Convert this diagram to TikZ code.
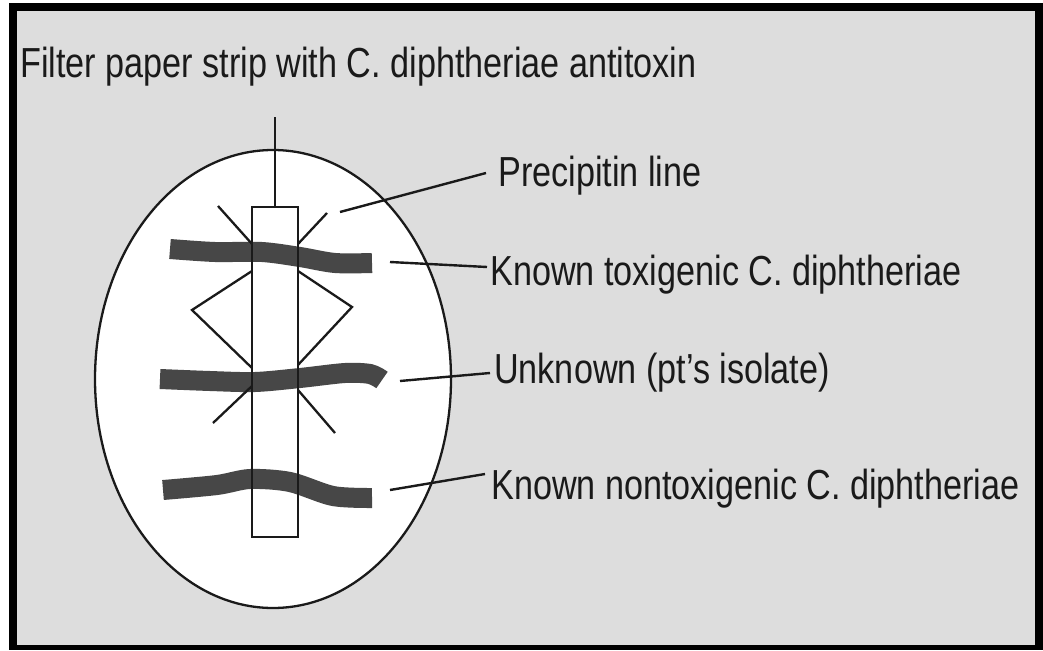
\documentclass[tikz,border=0pt]{standalone}
\usepackage{fontspec}
\setmainfont{Liberation Sans}
\usetikzlibrary{shapes.geometric}
\definecolor{bg}{HTML}{DDDDDD}
\definecolor{bandc}{HTML}{474747}
\definecolor{ink}{HTML}{1A1A1A}
\newcommand{\sqz}[1]{\scalebox{0.814}[1]{#1}}
\tikzset{
  lbl/.style={anchor=base west, inner sep=0pt, text=ink, font=\fontsize{42}{50}\selectfont},
  band/.style={line width=20pt, draw=bandc, line cap=butt},
  fine/.style={line width=2.3pt, draw=ink},
  leader/.style={line width=2.4pt, draw=ink},
  plate/.style={ellipse, draw=ink, fill=white, line width=2.3pt, inner sep=0pt},
  stripbox/.style={rectangle, draw=ink, line width=2.3pt, inner sep=0pt},
}
\begin{document}
\begin{tikzpicture}[x=1pt,y=-1pt]
\useasboundingbox (0,0) rectangle (1043,650);
\fill[white] (0,0) rectangle (1043,650);
\fill[black] (9,3) rectangle (1043,650);
\fill[bg] (17,11) rectangle (1035,645);

% agar plate
\node[plate, minimum width=356, minimum height=458] (plate) at (273,379) {};

% bacterial streaks
\draw[band] plot[smooth] coordinates {(170,249) (215,252) (262,252) (300,257) (335,263) (372,263)};
\draw[band] plot[smooth, tension=0.5] coordinates {(160,379) (210,381) (255,382) (300,378) (345,373) (370,374) (382,380)};
\draw[band] plot[smooth] coordinates {(163,490) (217,485) (250,479) (290,482) (333,496) (372,498)};

% filter paper strip
\node[stripbox, minimum width=46, minimum height=330] (strip) at (275,372) {};
\coordinate (stripTop) at (275,117);
\draw[fine] (strip.north) -- (stripTop);

% precipitin lines
\draw[fine] (218,206) -- (252,244);
\draw[fine] (327,213) -- (298,244);
\draw[fine] (252,271) -- (192,310) -- (252,368);
\draw[fine] (298,271) -- (352,307) -- (298,365);
\draw[fine] (213,423) -- (252,386);
\draw[fine] (335,433) -- (298,390);

% labels
\node[lbl] (title) at (20,78) {\sqz{Filter paper strip with C. diphtheriae antitoxin}};
\node[lbl] (lblPre) at (498,186) {\sqz{Precipitin line}};
\node[lbl] (lblTox) at (490,285) {\sqz{Known toxigenic C. diphtheriae}};
\node[lbl] (lblUnk) at (494,383) {\sqz{Unknown (pt's isolate)}};
\node[lbl] (lblNon) at (491,499) {\sqz{Known nontoxigenic C. diphtheriae}};

% leaders
\coordinate (pPre) at (340,212);
\coordinate (pTox) at (390,262);
\coordinate (pUnk) at (400,381);
\coordinate (pNon) at (390,490);
\draw[leader] (pPre) -- ([xshift=-12pt,yshift=13pt]lblPre.base west);
\draw[leader] (pTox) -- ([xshift=-3pt,yshift=18pt]lblTox.base west);
\draw[leader] (pUnk) -- ([xshift=-4pt,yshift=10pt]lblUnk.base west);
\draw[leader] (pNon) -- ([xshift=-6pt,yshift=25pt]lblNon.base west);
\end{tikzpicture}
\end{document}
